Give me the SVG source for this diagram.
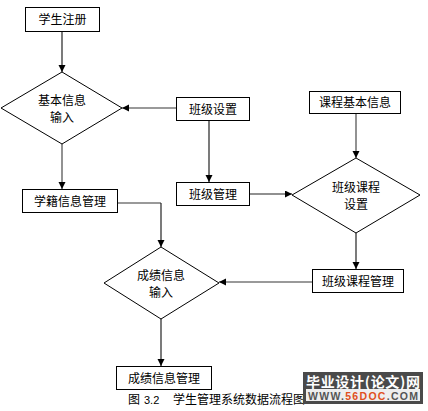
<svg xmlns="http://www.w3.org/2000/svg" width="428" height="411" viewBox="0 0 428 411">
<style>
.box{fill:#fff;stroke:#000;stroke-width:1}
.dia{fill:#fff;stroke:#000;stroke-width:1}
.t{font-family:"Noto Sans CJK SC","Liberation Sans",sans-serif;font-size:12px;fill:#000;text-anchor:middle}
.c{fill:none;stroke:#222;stroke-width:1.2}
.g{fill:none;stroke:#777;stroke-width:1.6}
</style>
<defs>
<marker id="ah" markerWidth="8" markerHeight="8" refX="7" refY="3.5" orient="auto" markerUnits="userSpaceOnUse">
<path d="M0,0 L7,3.5 L0,7 Z" fill="#000"/>
</marker>
</defs>
<rect width="428" height="411" fill="#fff"/>
<g id="connectors">
<path class="c" d="M62,31 V72" marker-end="url(#ah)"/>
<path class="g" d="M62,144 V189" marker-end="url(#ah)"/>
<path class="g" d="M176,108 H122" marker-end="url(#ah)"/>
<path class="c" d="M209,120 V182" marker-end="url(#ah)"/>
<path class="c" d="M249,194 H292" marker-end="url(#ah)"/>
<path class="g" d="M356,113 V158" marker-end="url(#ah)"/>
<path class="c" d="M356,233 V269" marker-end="url(#ah)"/>
<path class="g" d="M312,282 H219" marker-end="url(#ah)"/>
<path class="g" d="M117,203 H161"/>
<path class="c" d="M161,203 V247" marker-end="url(#ah)"/>
<path class="c" d="M161,319 V366" marker-end="url(#ah)"/>
</g>
<g id="n1"><rect class="box" x="25.5" y="7.5" width="74" height="24"/><text class="t" x="62.5" y="24">学生注册</text></g>
<g id="n2"><polygon class="dia" points="62,72 122,108 62,144 1,108"/><text class="t" x="62" y="105">基本信息</text><text class="t" x="62" y="122">输入</text></g>
<g id="n3"><rect class="box" x="176.5" y="97.5" width="73" height="23"/><text class="t" x="213" y="113.5">班级设置</text></g>
<g id="n4"><rect class="box" x="22.5" y="189.5" width="95" height="23"/><text class="t" x="70" y="205.5">学籍信息管理</text></g>
<g id="n5"><rect class="box" x="176.5" y="182.5" width="73" height="23"/><text class="t" x="213" y="198.5">班级管理</text></g>
<g id="n6"><rect class="box" x="309.5" y="91.5" width="91" height="22"/><text class="t" x="355" y="107">课程基本信息</text></g>
<g id="n7"><polygon class="dia" points="356,158 420,195 356,233 292,195"/><text class="t" x="356" y="192">班级课程</text><text class="t" x="356" y="209">设置</text></g>
<g id="n8"><rect class="box" x="312.5" y="269.5" width="91" height="23"/><text class="t" x="358" y="285.5">班级课程管理</text></g>
<g id="n9"><polygon class="dia" points="161,247 219,283 161,319 104,283"/><text class="t" x="161" y="280">成绩信息</text><text class="t" x="161" y="297">输入</text></g>
<g id="n10"><rect class="box" x="116.5" y="366.5" width="95" height="23"/><text class="t" x="164" y="382.5">成绩信息管理</text></g>
<text style="font-family:'Noto Sans CJK SC','Liberation Sans',sans-serif;font-size:12px;fill:#000"><tspan x="128" y="404">图</tspan><tspan x="144" y="404" style="font-family:'Liberation Sans',sans-serif;font-size:11px">3.2</tspan><tspan x="173" y="404">学生管理系统数据流程图</tspan></text>
<g id="watermark">
<rect x="303" y="372" width="120" height="32" fill="#4a4a4a"/>
<rect x="306" y="389" width="114" height="12" fill="#eeeeee"/>
<text x="363" y="386.5" style="font-family:'Noto Sans CJK SC',sans-serif;font-size:14px;font-weight:bold;fill:#fff;text-anchor:middle" textLength="114" lengthAdjust="spacing">毕业设计(论文)网</text>
<text x="363" y="399.5" style="font-family:'Liberation Sans',sans-serif;font-size:10.5px;font-weight:bold;fill:#555;text-anchor:middle" textLength="110" lengthAdjust="spacing">WWW.<tspan fill="#e05020">56DOC</tspan>.COM</text>
</g>
</svg>
